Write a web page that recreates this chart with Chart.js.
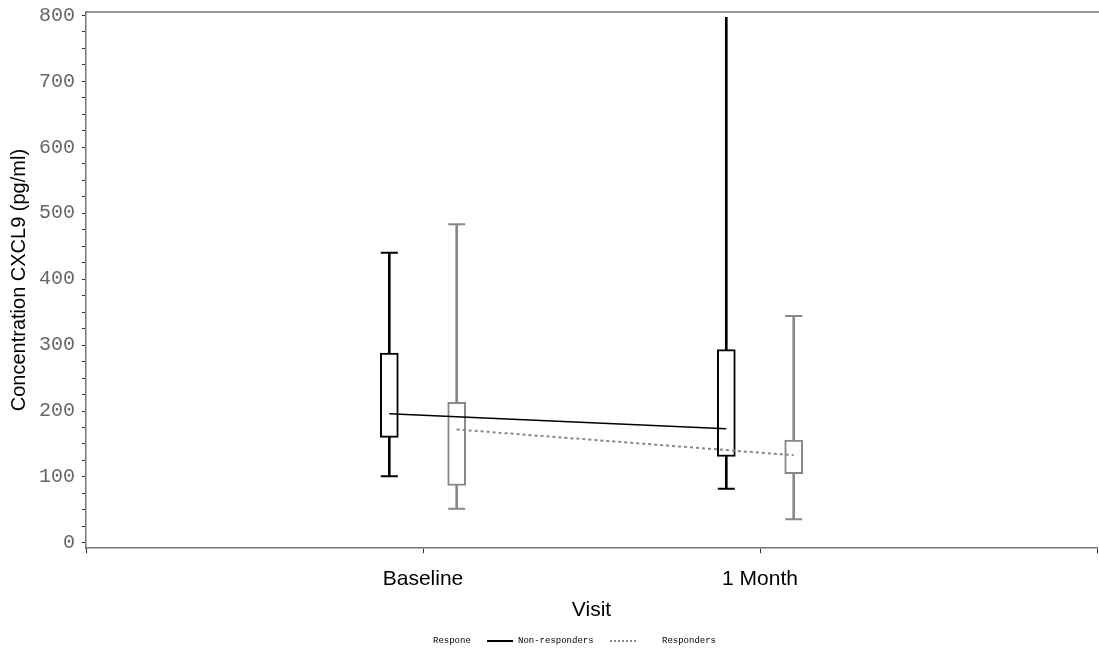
<!DOCTYPE html>
<html lang="en">
<head>
  <meta charset="UTF-8" />
  <title>CXCL9 by visit</title>
  <script src="https://cdn.jsdelivr.net/npm/chart.js"></script>
  <style>
    html, body { margin: 0; padding: 0; background: #fff; }
    .wrap { position: relative; width: 1099px; height: 649px; }
    .legend { position: absolute; top: 634px; left: 0; width: 1099px; height: 14px;
      font-family: 'Liberation Mono', 'DejaVu Sans Mono', monospace; font-size: 9px; color: #000; }
    .legend span { position: absolute; top: 0; line-height: 14px; white-space: nowrap; }
    .legend .swatch { top: 6px; width: 26px; height: 0; }
  </style>
</head>
<body>
  <div class="wrap">
    <canvas id="cxcl9Chart"></canvas>
    <div class="legend">
      <span style="left:433px">Respone</span>
      <span class="swatch" style="left:487px;border-top:2px solid #000"></span>
      <span style="left:518px">Non-responders</span>
      <span class="swatch" style="left:610px;border-top:2px dotted #888"></span>
      <span style="left:662px">Responders</span>
    </div>
  </div>

  <script>
    // visit positions on the x axis (0 and 3 are the empty ends)
    const visitLabels = ['', 'Baseline', '1 Month', ''];
    const visitPos = [1, 2];
    const groupShift = 0.1; // non-responders left, responders right

    // box statistics per visit, pg/ml
    const nrMin = [101, 82];
    const nrQ1 = [160, 131];
    const nrMedian = [196, 173];
    const nrQ3 = [288, 293];
    const nrMax = [440, 797];

    const rMin = [52, 36];
    const rQ1 = [87, 105];
    const rMedian = [172, 133];
    const rQ3 = [213, 156];
    const rMax = [483, 344];

    const yTicksMajor = 100;

    const BLACK = '#000000';
    const GREY = '#888888';

    function at(shift, vals) {
      return visitPos.map((p, i) => ({ x: p + shift, y: vals[i] }));
    }
    function span(shift, lo, hi) {
      return visitPos.map((p, i) => ({ x: p + shift, y: [lo[i], hi[i]] }));
    }
    function caps(shift, lo, hi) {
      return at(shift, lo).concat(at(shift, hi));
    }

    // top frame line
    const frameTop = {
      id: 'frameTop',
      afterDraw(chart) {
        const { ctx, chartArea } = chart;
        ctx.save();
        ctx.strokeStyle = '#777';
        ctx.lineWidth = 1.5;
        ctx.beginPath();
        ctx.moveTo(chartArea.left, chartArea.top);
        ctx.lineTo(chart.width, chartArea.top);
        ctx.stroke();
        ctx.restore();
      }
    };

    // let the layout padding alone decide the plot edges
    function noOverflow(scale) {
      scale.paddingTop = 0;
      scale.paddingBottom = 0;
      scale.paddingLeft = 0;
      scale.paddingRight = 0;
    }

    const boxStyle = { type: 'bar', grouped: false, barThickness: 18, borderWidth: 2,
      borderSkipped: false, backgroundColor: '#fff' };
    const whiskerStyle = { type: 'bar', grouped: false, barThickness: 2, borderWidth: 0 };
    const capStyle = { type: 'scatter', pointStyle: 'line', pointRadius: 8.5, pointBorderWidth: 2,
      showLine: false };

    new Chart(document.getElementById('cxcl9Chart'), {
      type: 'bar',
      data: {
        datasets: [
          { type: 'line', label: 'Non-responders', data: at(-groupShift, nrMedian),
            borderColor: BLACK, borderWidth: 1.5, pointRadius: 0, fill: false },
          { type: 'line', label: 'Responders', data: at(groupShift, rMedian),
            borderColor: GREY, borderWidth: 2, borderDash: [3, 3], pointRadius: 0, fill: false },
          { ...boxStyle, label: 'nr box', data: span(-groupShift, nrQ1, nrQ3), borderColor: BLACK },
          { ...boxStyle, label: 'r box', data: span(groupShift, rQ1, rQ3), borderColor: GREY },
          { ...whiskerStyle, label: 'nr whisker', data: span(-groupShift, nrMin, nrMax), backgroundColor: BLACK },
          { ...whiskerStyle, label: 'r whisker', data: span(groupShift, rMin, rMax), backgroundColor: GREY },
          { ...capStyle, label: 'nr caps', data: caps(-groupShift, nrMin, nrMax), borderColor: BLACK,
            pointRadius: [8.5, 8.5, 8.5, 0] },
          { ...capStyle, label: 'r caps', data: caps(groupShift, rMin, rMax), borderColor: GREY }
        ]
      },
      options: {
        responsive: true,
        maintainAspectRatio: false,
        animation: false,
        layout: { autoPadding: false, padding: { top: 12, right: 2, bottom: 32, left: 3 } },
        plugins: { legend: { display: false }, tooltip: { enabled: false } },
        scales: {
          x: {
            type: 'linear', min: 0, max: 3, offset: false,
            afterFit: noOverflow,
            border: { color: '#777', width: 1.5 },
            grid: { offset: false, drawOnChartArea: false, drawTicks: true, tickLength: 5, color: '#333' },
            ticks: { stepSize: 1, padding: 13, maxRotation: 0, autoSkip: false,
              callback: v => visitLabels[v] ?? '',
              color: '#000', font: { family: "'Liberation Sans', Arial, sans-serif", size: 21 } },
            title: { display: true, text: 'Visit', color: '#000', padding: { top: 0, bottom: 0 },
              font: { family: "'Liberation Sans', Arial, sans-serif", size: 21, lineHeight: 0.6 } }
          },
          y: {
            min: -8, max: 805,
            afterFit: noOverflow,
            border: { color: '#777', width: 1.5 },
            grid: { drawOnChartArea: false, drawTicks: true, tickLength: 4, color: '#333' },
            ticks: { stepSize: 25, includeBounds: false, padding: 7, autoSkip: false,
              callback: v => (v % yTicksMajor === 0 ? String(v) : ''),
              color: '#666', font: { family: "'Liberation Mono', 'DejaVu Sans Mono', monospace", size: 20 } },
            title: { display: true, text: 'Concentration CXCL9 (pg/ml)', color: '#000',
              padding: { top: 4, bottom: 1 },
              font: { family: "'Liberation Sans', Arial, sans-serif", size: 20 } }
          }
        }
      },
      plugins: [frameTop]
    });
  </script>
</body>
</html>
